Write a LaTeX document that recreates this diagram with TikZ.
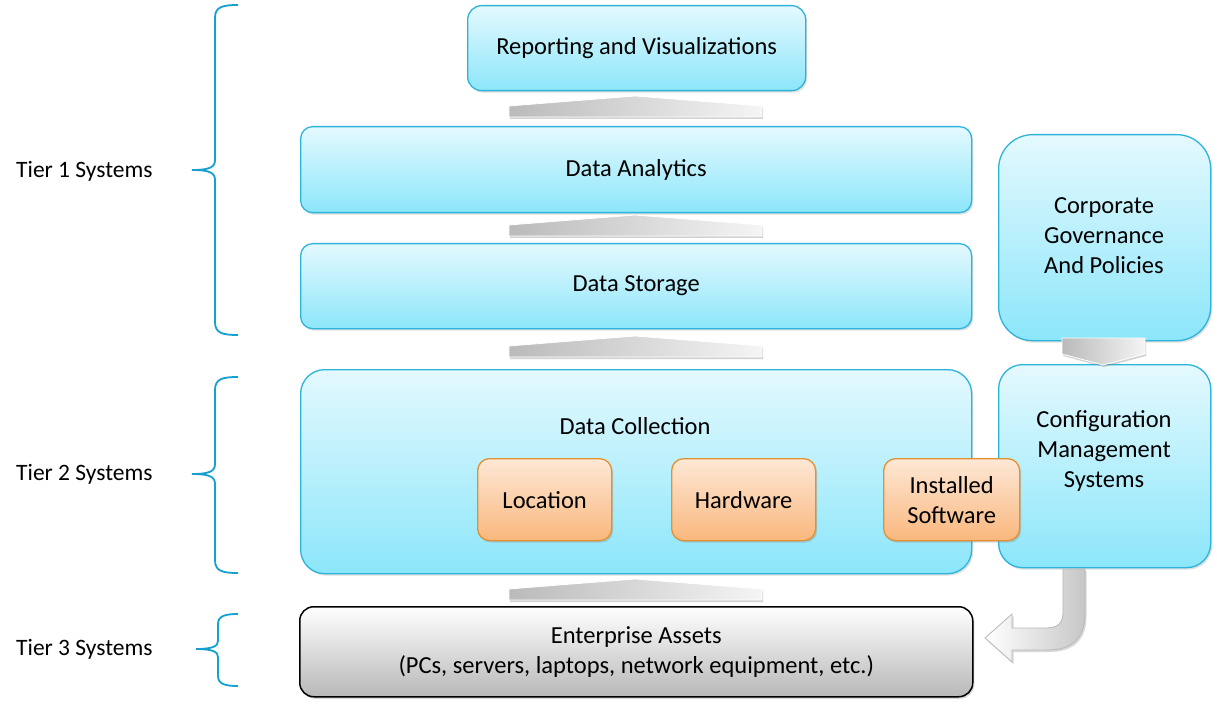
\documentclass[tikz,border=0pt]{standalone}
\usepackage{fontspec}
\setmainfont{Carlito}
\usetikzlibrary{shadows}
\definecolor{bborder}{RGB}{45,180,218}
\definecolor{btop}{RGB}{228,249,254}
\definecolor{bbot}{RGB}{140,230,250}
\definecolor{otop}{RGB}{253,232,214}
\definecolor{obot}{RGB}{249,183,125}
\definecolor{oborder}{RGB}{226,145,50}
\definecolor{brace}{RGB}{20,160,210}
\tikzset{
  bluebox/.style={draw=bborder, line width=1.3pt, rounded corners=#1, top color=btop, bottom color=bbot,
     anchor=north west, align=center, inner sep=0pt,
     drop shadow={opacity=0.25, shadow xshift=1.5pt, shadow yshift=-2pt}},
  orangebox/.style={draw=oborder, line width=1.3pt, rounded corners=12pt, top color=otop, bottom color=obot,
     anchor=north west, align=center, inner sep=0pt,
     drop shadow={opacity=0.3, shadow xshift=1.5pt, shadow yshift=-2pt}},
  graybox/.style={draw=black, line width=1.5pt, rounded corners=14pt, top color=white, bottom color=black!28,
     anchor=north west, align=center, inner sep=0pt,
     drop shadow={opacity=0.3, shadow xshift=1.5pt, shadow yshift=-2pt}},
  trap/.style={left color=black!27, right color=black!4, draw=white, line width=0.8pt,
     drop shadow={opacity=0.35, shadow xshift=1pt, shadow yshift=-2pt}},
  bracestyle/.style={draw=brace, line width=1.8pt},
  tierlabel/.style={anchor=west, font=\fontsize{23.5}{28}\selectfont, inner sep=0pt},
  txt/.style={font=\fontsize{24.5}{30}\selectfont, align=center, inner sep=0pt},
}
\begin{document}
\begin{tikzpicture}[x=1pt,y=-1pt]
\useasboundingbox[fill=white] (0,0) rectangle (1217,708);

% boxes
\node[bluebox=14pt, minimum width=338pt, minimum height=85pt] (reporting) at (467,5) {};
\node[txt] at (reporting.center) {Reporting and Visualizations};
\node[bluebox=12pt, minimum width=671pt, minimum height=86pt] (analytics) at (300,126) {};
\node[txt] at (analytics.center) {Data Analytics};
\node[bluebox=12pt, minimum width=671pt, minimum height=85pt] (storage) at (300,243) {};
\node[txt] at (storage.center) {Data Storage};
\node[bluebox=24pt, minimum width=671pt, minimum height=204pt] (collection) at (300,369) {};
\node[txt] (collectionlabel) at (635,426) {Data Collection};
\node[bluebox=34pt, minimum width=212pt, minimum height=206pt] (corporate) at (998,134) {};
\node[txt] at (1104,236) {Corporate\\Governance\\And Policies};
\node[bluebox=24pt, minimum width=212pt, minimum height=203pt] (config) at (998,364) {};
\node[txt] at (1104,451) {Configuration\\Management\\Systems};
\node[graybox, minimum width=673pt, minimum height=90pt] (assets) at (299,606) {};
\node[txt] at (assets.center) {Enterprise Assets\\(PCs, servers, laptops, network equipment, etc.)};

% inner orange boxes
\node[orangebox, minimum width=134pt, minimum height=82pt] (location) at (477,458) {};
\node[txt] at (location.center) {Location};
\node[orangebox, minimum width=144pt, minimum height=82pt] (hardware) at (671,458) {};
\node[txt] at (hardware.center) {Hardware};
\node[orangebox, minimum width=136pt, minimum height=82pt] (software) at (883,458) {};
\node[txt] at (software.center) {Installed\\Software};

% trapezoid arrows between layers
\foreach \y in {96,215,336,579}{
  \path[trap] (509,\y+10) -- (635,\y) -- (762,\y+10) -- (762,\y+21) -- (509,\y+21) -- cycle;
}
% down arrow corporate -> config
\path[trap] (1062,338) -- (1145,338) -- (1145,354) -- (1103,365) -- (1062,354) -- cycle;

% curved arrow config -> assets
\path[left color=white, right color=black!22, draw=black!28, line width=0.8pt,
      drop shadow={opacity=0.3, shadow xshift=1.5pt, shadow yshift=-2pt}]
  (1063,569) -- (1063,612) .. controls (1063,623) and (1058,628) .. (1046,628)
  -- (1012,628) -- (1012,614) -- (985,638) -- (1012,662) -- (1012,650)
  -- (1048,650) .. controls (1072,650) and (1085,638) .. (1085,614) -- (1085,569) -- cycle;

% braces
\draw[bracestyle] (238,5) .. controls (222,5) and (215,7) .. (215,18) -- (215,160)
  .. controls (215,167) and (210,170) .. (192,170) .. controls (210,170) and (215,173) .. (215,180)
  -- (215,322) .. controls (215,333) and (222,335) .. (238,335);
\draw[bracestyle] (238,377) .. controls (222,377) and (215,379) .. (215,390) -- (215,464)
  .. controls (215,471) and (210,474) .. (192,474) .. controls (210,474) and (215,477) .. (215,484)
  -- (215,560) .. controls (215,571) and (222,573) .. (238,573);
\draw[bracestyle] (238,614) .. controls (225,614) and (218,616) .. (218,624) -- (218,641)
  .. controls (218,646) and (213,649) .. (196,649) .. controls (213,649) and (218,652) .. (218,657)
  -- (218,676) .. controls (218,684) and (225,686) .. (238,686);

\node[tierlabel] (tier1) at (16,171) {Tier 1 Systems};
\node[tierlabel] (tier2) at (16,474) {Tier 2 Systems};
\node[tierlabel] (tier3) at (16,649) {Tier 3 Systems};
\end{tikzpicture}
\end{document}
